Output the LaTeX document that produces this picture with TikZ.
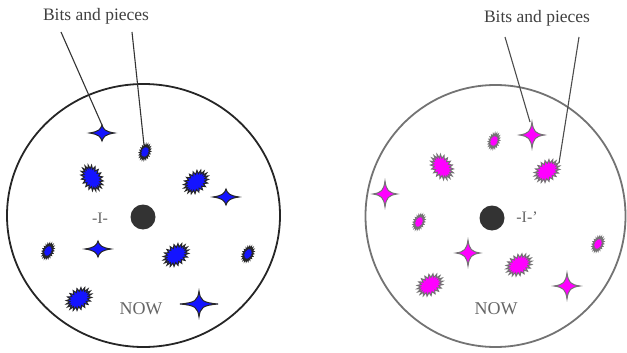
\documentclass[tikz,border=0pt]{standalone}
\usepackage{fontspec}
\setmainfont{Liberation Serif}
\definecolor{pieceblue}{RGB}{20,20,255}
\definecolor{piecemag}{RGB}{255,0,255}
\begin{document}
\begin{tikzpicture}[x=1pt,y=-1pt,
  lbl/.style={font=\fontsize{17.5}{19}\selectfont, text=black!75, inner sep=0pt},
  glbl/.style={font=\fontsize{16}{18}\selectfont, text=black!60, inner sep=0pt},
  nowlbl/.style={font=\fontsize{18}{20}\selectfont, text=black!60, inner sep=0pt},
  leader/.style={draw=black!80, line width=1.1pt},
  pics/blob/.style args={#1/#2}{code={
    \filldraw[piece] plot[samples=41, domain=0:360, variable=\t]
      ({#1*(1+0.16*cos(20*\t))*cos(\t)}, {#2*(1+0.2*cos(20*\t))*sin(\t)}) -- cycle;
  }},
  pics/fourstar/.style args={#1/#2}{code={
    \filldraw[piece] (#1,0) .. controls (3.5,1.4) and (1.4,3.5) .. (0,#2)
      .. controls (-1.4,3.5) and (-3.5,1.4) .. (-#1,0)
      .. controls (-3.5,-1.4) and (-1.4,-3.5) .. (0,-#2)
      .. controls (1.4,-3.5) and (3.5,-1.4) .. cycle;
  }},
]
\useasboundingbox (0,0) rectangle (627,353);

% ---------- left circle ----------
\draw[line width=1.8pt, black!85] (143.5,215.5) ellipse [x radius=136.5, y radius=131.5];
\node[circle, fill=black!80, minimum size=25pt, inner sep=0pt] (dotL) at (143,217) {};
\node[glbl] (iL) at (100,218) {-I-};
\node[nowlbl] (nowL) at (141,309) {NOW};
\node[lbl] (bitsL) at (96,16) {Bits and pieces};

\begin{scope}[piece/.style={fill=pieceblue, draw=black!85, line width=1pt}]
  \pic[rotate=0] at (102,133) {fourstar={12.5/8}};
  \pic[rotate=70] at (145,152) {blob={7/4.5}};
  \pic[rotate=-60] at (92,178) {blob={12/8.5}};
  \pic[rotate=40] at (196,182) {blob={12/8.5}};
  \pic at (226,197) {fourstar={13/8}};
  \pic[rotate=65] at (48,251) {blob={7/4.5}};
  \pic at (98,249) {fourstar={13/8}};
  \pic[rotate=35] at (176,255) {blob={12/8.5}};
  \pic[rotate=65] at (248,254) {blob={7/4.5}};
  \pic[rotate=35] at (79,299) {blob={12/8.5}};
  \pic at (199,304) {fourstar={19/13}};
\end{scope}

\coordinate (aL1) at (61,32);
\coordinate (tL1) at (102,125);
\coordinate (aL2) at (132,32);
\coordinate (tL2) at (144,145);
\draw[leader] (aL1) -- (tL1);
\draw[leader] (aL2) -- (tL2);

% ---------- right circle ----------
\draw[line width=1.8pt, black!55] (495.5,216) ellipse [x radius=130, y radius=131];
\node[circle, fill=black!80, minimum size=25pt, inner sep=0pt] (dotR) at (492,218) {};
\node[glbl] (iR) at (527,217) {-I-'};
\node[nowlbl] (nowR) at (496,309) {NOW};
\node[lbl] (bitsR) at (537,18) {Bits and pieces};

\begin{scope}[piece/.style={fill=piecemag, draw=black!55, line width=1pt}]
  \pic[rotate=70] at (494,141) {blob={7/4.5}};
  \pic at (532,135) {fourstar={12.5/13}};
  \pic[rotate=-55] at (442,167) {blob={12/8.5}};
  \pic[rotate=35] at (547,171) {blob={12/8.5}};
  \pic at (385,194) {fourstar={12/13}};
  \pic[rotate=65] at (419,222) {blob={7/4.5}};
  \pic at (468,253) {fourstar={12/13}};
  \pic[rotate=30] at (519,265) {blob={12/8.5}};
  \pic[rotate=65] at (598,244) {blob={7/4.5}};
  \pic[rotate=30] at (430,285) {blob={12/8.5}};
  \pic at (567,286) {fourstar={13/13}};
\end{scope}

\coordinate (aR1) at (505,37);
\coordinate (tR1) at (530,122);
\coordinate (aR2) at (579,37);
\coordinate (tR2) at (559,163);
\draw[leader, draw=black!70] (aR1) -- (tR1);
\draw[leader, draw=black!70] (aR2) -- (tR2);
\end{tikzpicture}
\end{document}
